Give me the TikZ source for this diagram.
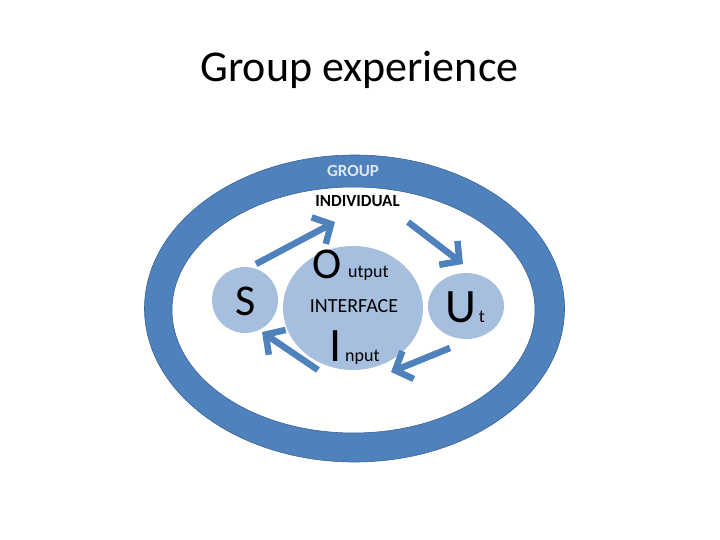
\documentclass[tikz,border=0pt]{standalone}
\usepackage{fontspec}
\setmainfont{Carlito}
\usetikzlibrary{arrows.meta,shapes.geometric}
\definecolor{ringblue}{RGB}{79,129,189}
\definecolor{ringedge}{RGB}{60,100,150}
\definecolor{lightblue}{RGB}{167,191,222}
\definecolor{grouptext}{RGB}{220,230,242}
\begin{document}
\begin{tikzpicture}[x=1pt,y=-1pt,
  arr/.style={ringblue, line width=6.5pt, line join=miter,
    -{Straight Barb[length=14pt,width=30pt,line width=6.5pt]}},
  blob/.style={fill=lightblue, draw=none, inner sep=0pt},
  lbl/.style={anchor=base, inner sep=0pt}]
\useasboundingbox (0,0) rectangle (720,540);
% title
\node[lbl, font=\fontsize{44}{52}\selectfont] (title) at (359.5,82) {Group experience};
% group ring
\fill[ringblue, draw=ringedge, line width=0.6pt, even odd rule]
  (354.5,308.5) ellipse [x radius=210pt, y radius=153.5pt]
  (353.5,310) ellipse [x radius=181.5pt, y radius=123pt];
\node[lbl, font=\fontsize{17}{20}\selectfont\bfseries, text=grouptext] (group) at (353,177) {GROUP};
\node[lbl, font=\fontsize{17}{20}\selectfont\bfseries] (individual) at (357.5,207) {INDIVIDUAL};
% blobs
\node[blob, circle, minimum size=66pt] (S) at (245,300) {};
\node[blob, ellipse, minimum width=140pt, minimum height=124pt] (iface) at (353,308) {};
\node[blob, ellipse, minimum width=76pt, minimum height=66pt] (U) at (466,306) {};
% texts
\node[lbl, font=\fontsize{44}{50}\selectfont] (Stext) at (246,315) {S};
\node[lbl, font=\fontsize{44}{50}\selectfont] (Otext) at (327.5,278) {O};
\node[lbl, font=\fontsize{18}{22}\selectfont, anchor=base west] (utput) at (348,277) {utput};
\node[lbl, font=\fontsize{20}{24}\selectfont] (interface) at (354,312) {INTERFACE};
\node[lbl, font=\fontsize{48}{54}\selectfont] (Itext) at (336,361) {I};
\node[lbl, font=\fontsize{18}{22}\selectfont, anchor=base west] (nput) at (345,361) {nput};
\node[lbl, font=\fontsize{48}{54}\selectfont] (Utext) at (460.5,322) {U};
\node[lbl, font=\fontsize{18}{22}\selectfont] (ttext) at (482,322) {t};
% arrow ends
\coordinate (a1s) at (256,264); \coordinate (a1e) at (335,222);
\coordinate (a2s) at (408,222); \coordinate (a2e) at (463,264);
\coordinate (a3s) at (450,348); \coordinate (a3e) at (391,372);
\coordinate (a4s) at (318,370); \coordinate (a4e) at (262,332);
\draw[arr] (a1s) -- (a1e);
\draw[arr] (a2s) -- (a2e);
\draw[arr] (a3s) -- (a3e);
\draw[arr] (a4s) -- (a4e);
\end{tikzpicture}
\end{document}
